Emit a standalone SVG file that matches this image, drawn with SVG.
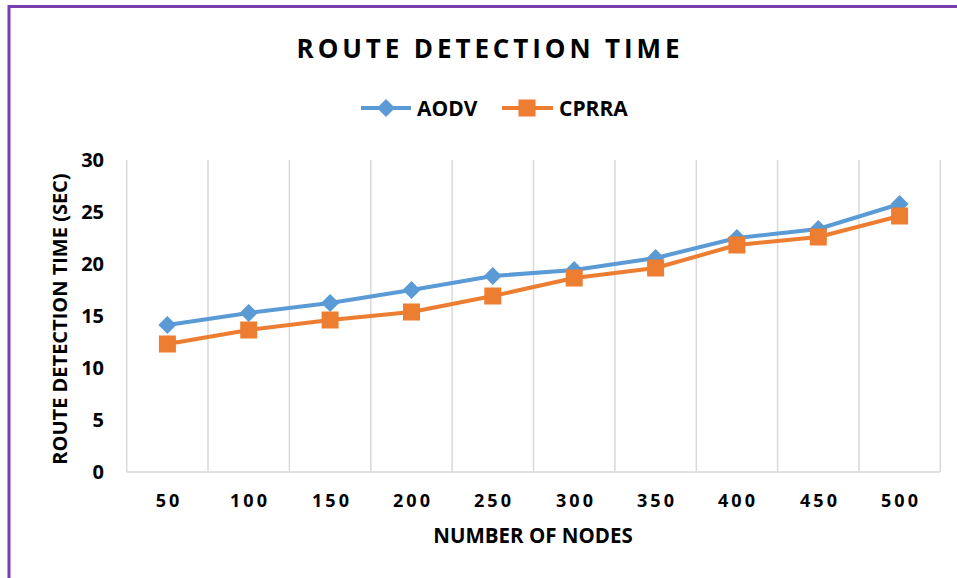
<svg xmlns="http://www.w3.org/2000/svg" width="957" height="578" viewBox="0 0 957 578">
<style>
.t{font-family:"Open Sans","Liberation Sans",sans-serif;font-weight:bold;fill:#000}
.grid{stroke:#d9d9d9;stroke-width:1.5;fill:none}
.a{stroke:#5b9bd5;stroke-width:4;fill:none;stroke-linejoin:round}
.c{stroke:#ed7d31;stroke-width:4;fill:none;stroke-linejoin:round}
.ytick{font-size:20px;text-anchor:end}
.xtick{font-size:18px;text-anchor:middle;letter-spacing:3px}
</style>
<defs>
<path id="dia" d="M0,-9 L9,0 L0,9 L-9,0 Z" fill="#5b9bd5"/>
<rect id="sq" x="-8.5" y="-8.5" width="17" height="17" fill="#ed7d31"/>
</defs>
<rect width="957" height="578" fill="#fff"/>
<path d="M9,578 V6.5 H957" fill="none" stroke="#7b3fb0" stroke-width="3"/>
<text class="t" x="490" y="58" font-size="26" text-anchor="middle" letter-spacing="3.9">ROUTE DETECTION TIME</text>
<g id="legend">
<line x1="361" y1="108" x2="411" y2="108" class="a"/>
<use href="#dia" x="386" y="108"/>
<text class="t" x="417" y="116" font-size="21">AODV</text>
<line x1="502" y1="108" x2="553" y2="108" class="c"/>
<use href="#sq" x="527" y="108"/>
<text class="t" x="559" y="116" font-size="21">CPRRA</text>
</g>
<g id="grid">
<path class="grid" d="M126.7,160V472 M208,160V472 M289.4,160V472 M370.8,160V472 M452.1,160V472 M533.5,160V472 M614.9,160V472 M696.3,160V472 M777.6,160V472 M859,160V472 M940.3,160V472 M126.7,472H940.3"/>
</g>
<g id="yaxis">
<text class="t ytick" x="104" y="167">30</text>
<text class="t ytick" x="104" y="219">25</text>
<text class="t ytick" x="104" y="271">20</text>
<text class="t ytick" x="104" y="323">15</text>
<text class="t ytick" x="104" y="375">10</text>
<text class="t ytick" x="104" y="427">5</text>
<text class="t ytick" x="104" y="479">0</text>
<text class="t" font-size="20" text-anchor="middle" transform="translate(67,319) rotate(-90)">ROUTE DETECTION TIME (SEC)</text>
</g>
<g id="xaxis">
<text class="t xtick" x="169" y="507">50</text>
<text class="t xtick" x="250" y="507">100</text>
<text class="t xtick" x="332" y="507">150</text>
<text class="t xtick" x="413" y="507">200</text>
<text class="t xtick" x="494" y="507">250</text>
<text class="t xtick" x="576" y="507">300</text>
<text class="t xtick" x="657" y="507">350</text>
<text class="t xtick" x="738" y="507">400</text>
<text class="t xtick" x="820" y="507">450</text>
<text class="t xtick" x="901" y="507">500</text>
<text class="t" x="533" y="543" font-size="20.5" text-anchor="middle">NUMBER OF NODES</text>
</g>
<g id="series-aodv">
<polyline class="a" points="167.4,325 248.7,313 330.1,303 411.5,290 492.8,276 574.2,270 655.6,258 736.9,238 818.3,229 899.6,204"/>
<use href="#dia" x="167.4" y="325"/><use href="#dia" x="248.7" y="313"/><use href="#dia" x="330.1" y="303"/><use href="#dia" x="411.5" y="290"/><use href="#dia" x="492.8" y="276"/><use href="#dia" x="574.2" y="270"/><use href="#dia" x="655.6" y="258"/><use href="#dia" x="736.9" y="238"/><use href="#dia" x="818.3" y="229"/><use href="#dia" x="899.6" y="204"/>
</g>
<g id="series-cprra">
<polyline class="c" points="167.4,344 248.7,330 330.1,320 411.5,312 492.8,296 574.2,278 655.6,268 736.9,245 818.3,237 899.6,216"/>
<use href="#sq" x="167.4" y="344"/><use href="#sq" x="248.7" y="330"/><use href="#sq" x="330.1" y="320"/><use href="#sq" x="411.5" y="312"/><use href="#sq" x="492.8" y="296"/><use href="#sq" x="574.2" y="278"/><use href="#sq" x="655.6" y="268"/><use href="#sq" x="736.9" y="245"/><use href="#sq" x="818.3" y="237"/><use href="#sq" x="899.6" y="216"/>
</g>
</svg>
